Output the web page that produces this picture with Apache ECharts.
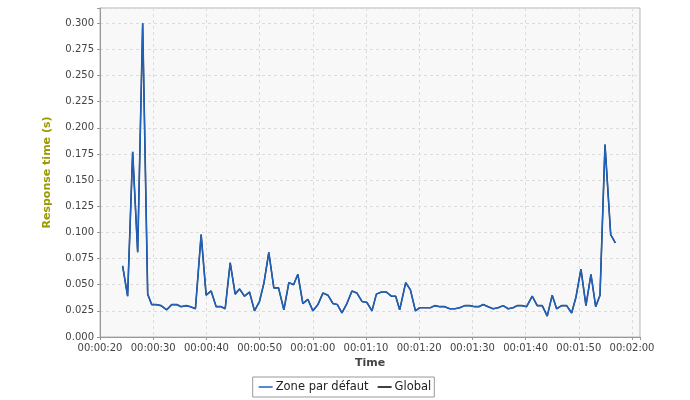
<!DOCTYPE html>
<html>
<head>
<meta charset="utf-8">
<title>Response time</title>
<script src="https://cdn.jsdelivr.net/npm/echarts@6/dist/echarts.min.js"></script>
<style>
  html, body { margin: 0; padding: 0; background: #fff; }
  #chart { width: 690px; height: 400px; }
</style>
</head>
<body>
<div id="chart"></div>
<script>
// elapsed time in seconds since start of test
const elapsedSec = [
  24.25, 25.19, 26.14, 27.08, 28.02, 28.96, 29.71, 30.54, 31.48, 32.54,
  33.48, 34.42, 35.25, 36.19, 37.00, 37.94, 39.01, 39.95, 40.89, 41.83,
  42.77, 43.53, 44.47, 45.41, 46.22, 47.16, 48.10, 49.04, 49.98, 50.83,
  51.73, 52.67, 53.56, 54.56, 55.50, 56.38, 57.19, 58.13, 59.07, 60.02,
  60.96, 61.90, 62.84, 63.78, 64.61, 65.47, 66.41, 67.36, 68.30, 69.24,
  70.18, 71.12, 71.95, 72.89, 73.83, 74.77, 75.58, 76.33, 77.46, 78.35,
  79.29, 80.10, 81.17, 82.11, 82.92, 83.86, 84.80, 85.74, 86.69, 87.63,
  88.57, 89.51, 90.45, 91.20, 92.01, 92.95, 93.89, 94.84, 95.78, 96.72,
  97.66, 98.41, 99.35, 100.18, 101.24, 102.18, 103.12, 104.06, 105.00, 105.83,
  106.77, 107.71, 108.65, 109.46, 110.40, 111.34, 112.28, 113.17, 113.98, 114.92,
  115.99, 116.86
];

// response time (s) for "Zone par défaut"
const zoneValues = [
  0.068, 0.039, 0.177, 0.081, 0.300, 0.041, 0.031, 0.031, 0.030, 0.026,
  0.031, 0.031, 0.029, 0.030, 0.029, 0.027, 0.098, 0.040, 0.044, 0.029,
  0.029, 0.027, 0.071, 0.041, 0.046, 0.039, 0.043, 0.025, 0.034, 0.052,
  0.081, 0.047, 0.047, 0.026, 0.052, 0.050, 0.060, 0.032, 0.036, 0.025,
  0.031, 0.042, 0.040, 0.032, 0.031, 0.023, 0.032, 0.044, 0.042, 0.034,
  0.033, 0.025, 0.041, 0.043, 0.043, 0.039, 0.039, 0.026, 0.052, 0.045,
  0.025, 0.028, 0.028, 0.028, 0.030, 0.029, 0.029, 0.027, 0.027, 0.028,
  0.030, 0.030, 0.029, 0.029, 0.031, 0.029, 0.027, 0.028, 0.030, 0.027,
  0.028, 0.030, 0.030, 0.029, 0.039, 0.030, 0.030, 0.020, 0.040, 0.027,
  0.030, 0.030, 0.023, 0.038, 0.065, 0.030, 0.060, 0.029, 0.040, 0.184,
  0.098, 0.090
];

// only one zone, so the global curve is the same one
const globalValues = zoneValues;

const xTicks = [20, 30, 40, 50, 60, 70, 80, 90, 100, 110, 120];
const yTicks = [0, 0.025, 0.05, 0.075, 0.1, 0.125, 0.15, 0.175, 0.2, 0.225, 0.25, 0.275, 0.3];

const pad = (n) => String(n).padStart(2, "0");
const fmtTime = (s) => {
  const h = Math.floor(s / 3600);
  const m = Math.floor((s % 3600) / 60);
  return pad(h) + ":" + pad(m) + ":" + pad(Math.round(s % 60));
};

const toPairs = (vals) => elapsedSec.map((t, i) => [t, vals[i]]);

const chart = echarts.init(document.getElementById("chart"));

chart.setOption({
  animation: false,
  textStyle: { fontFamily: "DejaVu Sans" },
  grid: {
    left: 100,
    right: 50,
    top: 8,
    bottom: 63,
    show: true,
    backgroundColor: "#f8f8f8",
    borderColor: "#b4b4b4",
    borderWidth: 1,
  },
  legend: {
    data: ["Zone par défaut", "Global"],
    left: "center",
    top: 377,
    icon: "rect",
    itemWidth: 14,
    itemHeight: 1.5,
    itemGap: 9,
    padding: [4, 3, 4, 6],
    borderColor: "#999",
    borderWidth: 1,
    textStyle: { fontSize: 11.5, color: "#222", padding: [0, 0, 0, -2] },
  },
  xAxis: {
    type: "value",
    min: xTicks[0],
    max: 121.5,
    interval: 10,
    name: "Time",
    nameLocation: "middle",
    nameGap: 20,
    nameTextStyle: { fontWeight: "bold", fontSize: 11, color: "#444" },
    axisLine: { lineStyle: { color: "#999" } },
    axisTick: { show: true, length: 3, lineStyle: { color: "#999" } },
    axisLabel: {
      fontSize: 10,
      color: "#444",
      margin: 6,
      formatter: (v) => (xTicks.includes(v) ? fmtTime(v) : ""),
    },
    splitLine: { lineStyle: { color: "#dcdcdc", type: [3, 3] } },
  },
  yAxis: {
    type: "value",
    min: yTicks[0],
    max: 0.3146,
    interval: 0.025,
    name: "Response time (s)",
    nameLocation: "middle",
    nameGap: 47,
    nameTextStyle: { fontWeight: "bold", fontSize: 11, color: "#999900" },
    axisLine: { show: true, lineStyle: { color: "#999" } },
    axisTick: { show: true, length: 3, lineStyle: { color: "#999" } },
    axisLabel: {
      fontSize: 10,
      color: "#444",
      margin: 6,
      formatter: (v) =>
        yTicks.some((t) => Math.abs(t - v) < 1e-9) ? v.toFixed(3) : "",
    },
    splitLine: { lineStyle: { color: "#dcdcdc", type: [3, 3] } },
  },
  series: [
    {
      name: "Zone par défaut",
      type: "line",
      data: toPairs(zoneValues),
      symbol: "none",
      z: 3,
      color: "#1f63bd",
      lineStyle: { width: 1.3, color: "#1f63bd" },
    },
    {
      name: "Global",
      type: "line",
      data: toPairs(globalValues),
      symbol: "none",
      z: 2,
      color: "#000",
      lineStyle: { width: 1.6, color: "#203a66" },
    },
  ],
});
</script>
</body>
</html>
